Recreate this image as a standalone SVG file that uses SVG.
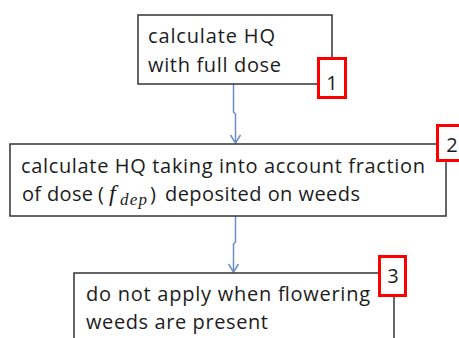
<svg xmlns="http://www.w3.org/2000/svg" width="459" height="338" viewBox="0 0 459 338">
<style>
.box{fill:#fff;stroke:#333;stroke-width:1.5}
.red{fill:#fff;stroke:#f00;stroke-width:3}
.t{font-family:"Open Sans","Liberation Sans",Arial,sans-serif;font-size:20px;fill:#1c1c1c}
.n{font-family:"Open Sans","Liberation Sans",Arial,sans-serif;font-size:20px;fill:#1c1c1c;text-anchor:middle}
.c{fill:none;stroke:#6b8fc4;stroke-width:1.5}
.m{font-family:"Liberation Serif","Times New Roman",serif;font-style:italic;fill:#1c1c1c}
</style>
<rect width="459" height="338" fill="#fff"/>
<g id="connectors">
<path class="c" d="M233.5,84 V112 L235.5,114 V143"/>
<path class="c" d="M230.5,135 L235.5,143 L240.5,135"/>
<path class="c" d="M235.5,216 V242 L233.5,244 V272"/>
<path class="c" d="M228.5,264 L233.5,272 L238.5,264"/>
</g>
<g id="node1">
<rect class="box" x="138" y="15" width="194" height="69"/>
<text class="t" x="148" y="43" textLength="127" lengthAdjust="spacing">calculate  HQ</text>
<text class="t" x="148" y="72" textLength="133" lengthAdjust="spacing">with full dose</text>
</g>
<g id="node2">
<rect class="box" x="10" y="144" width="436" height="72"/>
<text class="t" x="21" y="173" textLength="404" lengthAdjust="spacing">calculate  HQ taking into account fraction</text>
<text class="t" x="22" y="201" textLength="71" lengthAdjust="spacing">of dose</text>
<text class="t" x="98" y="201">(</text>
<text class="m" x="109" y="201" font-size="24">f</text>
<text class="m" x="120" y="205" font-size="17" textLength="27" lengthAdjust="spacing">dep</text>
<text class="t" x="150" y="201">)</text>
<text class="t" x="165" y="201" textLength="195" lengthAdjust="spacing">deposited on weeds</text>
</g>
<g id="node3">
<rect class="box" x="74" y="273" width="320" height="80"/>
<text class="t" x="86" y="301" textLength="284" lengthAdjust="spacing">do not apply when flowering</text>
<text class="t" x="86" y="329" textLength="182" lengthAdjust="spacing">weeds are present</text>
</g>
<g id="label1">
<rect class="red" x="318.5" y="58.5" width="27" height="39"/>
<text class="n" x="332" y="90">1</text>
</g>
<g id="label2">
<rect class="red" x="437.5" y="125.5" width="30" height="35"/>
<text class="n" x="452" y="152">2</text>
</g>
<g id="label3">
<rect class="red" x="379.5" y="256.5" width="26" height="39"/>
<text class="n" x="393" y="283">3</text>
</g>
</svg>
